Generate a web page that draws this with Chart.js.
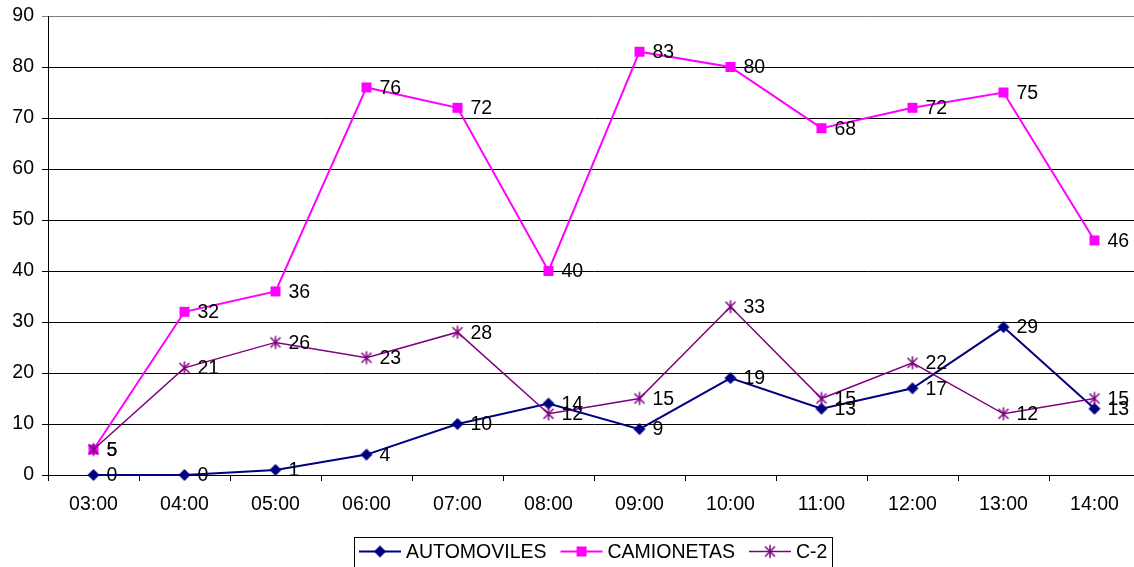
<!DOCTYPE html>
<html>
<head>
<meta charset="utf-8">
<script src="https://cdn.jsdelivr.net/npm/chart.js@4/dist/chart.umd.min.js"></script>
<style>
  html, body { margin: 0; padding: 0; overflow: hidden; background: #fff; }
  #wrap { width: 1140px; height: 567px; position: relative; }
  canvas { display: block; }
</style>
</head>
<body>
<div id="wrap"><canvas id="chart"></canvas></div>
<script>
// Hourly vehicle counts by type
const hours = ['03:00', '04:00', '05:00', '06:00', '07:00', '08:00', '09:00', '10:00', '11:00', '12:00', '13:00', '14:00'];
const automoviles = [0, 0, 1, 4, 10, 14, 9, 19, 13, 17, 29, 13];
const camionetas = [5, 32, 36, 76, 72, 40, 83, 80, 68, 72, 75, 46];
const c2 = [5, 21, 26, 23, 28, 12, 15, 33, 15, 22, 12, 15];
const seriesNames = ['AUTOMOVILES', 'CAMIONETAS', 'C-2'];
const yMin = 0, yMax = 90, yStep = 10;

const FONT = '"Liberation Sans", Arial, sans-serif';
const FONT_SIZE = 19.5;
const NAVY = '#000080', MAGENTA = '#FF00FF', PURPLE = '#800080';

// Marker images shared by the series and the legend
function makeMarker(kind, color) {
  const s = 16, c = s / 2;
  const cv = document.createElement('canvas');
  cv.width = s; cv.height = s;
  const g = cv.getContext('2d');
  g.fillStyle = color; g.strokeStyle = color;
  if (kind === 'diamond') {
    g.beginPath();
    g.moveTo(c, c - 6); g.lineTo(c + 6, c); g.lineTo(c, c + 6); g.lineTo(c - 6, c);
    g.closePath(); g.fill();
  } else if (kind === 'square') {
    g.fillRect(c - 5, c - 5, 10, 10);
  } else {
    g.lineWidth = 1.5;
    g.beginPath();
    g.moveTo(c - 5, c - 5); g.lineTo(c + 5, c + 5);
    g.moveTo(c + 5, c - 5); g.lineTo(c - 5, c + 5);
    g.moveTo(c, c - 6.5); g.lineTo(c, c + 6.5);
    g.stroke();
  }
  return cv;
}
const markers = [makeMarker('diamond', NAVY), makeMarker('square', MAGENTA), makeMarker('star', PURPLE)];

// Value labels to the right of each point
const valueLabels = {
  id: 'valueLabels',
  afterDatasetsDraw(chart) {
    const ctx = chart.ctx;
    ctx.save();
    ctx.font = FONT_SIZE + 'px ' + FONT;
    ctx.fillStyle = '#000';
    ctx.textAlign = 'left';
    ctx.textBaseline = 'middle';
    chart.data.datasets.forEach((ds, i) => {
      const meta = chart.getDatasetMeta(i);
      meta.data.forEach((pt, j) => {
        ctx.fillText(String(ds.data[j]), pt.x + 13, pt.y + 1);
      });
    });
    ctx.restore();
  }
};

// Boxed legend below the axis: line + marker + name
const boxLegend = {
  id: 'boxLegend',
  afterDraw(chart) {
    const ctx = chart.ctx;
    ctx.save();
    ctx.font = FONT_SIZE + 'px ' + FONT;
    const lineLen = 42, textGap = 5, itemGap = 14, pad = 5;
    const widths = seriesNames.map(n => ctx.measureText(n).width);
    const total = widths.reduce((a, w) => a + lineLen + textGap + w, 0) + itemGap * (seriesNames.length - 1) + pad * 2;
    const left = Math.round(593 - total / 2);
    const top = 537, cy = 551.5;
    ctx.strokeStyle = '#000';
    ctx.lineWidth = 1;
    ctx.strokeRect(left + 0.5, top + 0.5, Math.round(total), 40);
    let x = left + pad;
    chart.data.datasets.forEach((ds, i) => {
      ctx.strokeStyle = ds.borderColor;
      ctx.lineWidth = ds.borderWidth;
      ctx.beginPath();
      ctx.moveTo(x, cy); ctx.lineTo(x + lineLen, cy);
      ctx.stroke();
      const m = markers[i];
      ctx.drawImage(m, x + lineLen / 2 - m.width / 2, cy - m.height / 2);
      ctx.fillStyle = '#000';
      ctx.textAlign = 'left';
      ctx.textBaseline = 'middle';
      ctx.fillText(seriesNames[i], x + lineLen + textGap, cy + 1);
      x += lineLen + textGap + widths[i] + itemGap;
    });
    ctx.restore();
  }
};

const seriesData = [automoviles, camionetas, c2];
const seriesColors = [NAVY, MAGENTA, PURPLE];
const seriesWidths = [2, 2, 1.5];

new Chart(document.getElementById('chart'), {
  type: 'line',
  data: {
    labels: hours,
    datasets: seriesNames.map((name, i) => ({
      label: name,
      data: seriesData[i],
      borderColor: seriesColors[i],
      backgroundColor: seriesColors[i],
      borderWidth: seriesWidths[i],
      pointStyle: markers[i],
      pointRadius: 6,
      tension: 0,
      fill: false,
      clip: false,
      order: 3 - i
    }))
  },
  options: {
    responsive: true,
    maintainAspectRatio: false,
    animation: false,
    devicePixelRatio: 1,
    layout: { autoPadding: false, padding: { top: 16, right: 0, left: 0, bottom: 0 } },
    plugins: { legend: { display: false }, tooltip: { enabled: false } },
    scales: {
      x: {
        offset: true,
        grid: { offset: true, drawOnChartArea: false, drawTicks: true, tickLength: 6, color: '#000' },
        border: { color: '#000', width: 1 },
        ticks: { color: '#000', font: { family: FONT, size: FONT_SIZE }, padding: 12, maxRotation: 0, autoSkip: false },
        afterFit(s) { s.height = 92; s.paddingLeft = 0; s.paddingRight = 0; }
      },
      y: {
        min: yMin,
        max: yMax,
        grid: {
          color: c => (c.tick && c.tick.value === yMax) ? '#808080' : '#000',
          lineWidth: 1,
          tickLength: 6
        },
        border: { color: '#000', width: 1 },
        ticks: { stepSize: yStep, color: '#000', font: { family: FONT, size: FONT_SIZE }, padding: 8 },
        afterFit(s) { s.width = 48; s.paddingTop = 0; s.paddingBottom = 0; }
      }
    }
  },
  plugins: [valueLabels, boxLegend]
});
</script>
</body>
</html>
